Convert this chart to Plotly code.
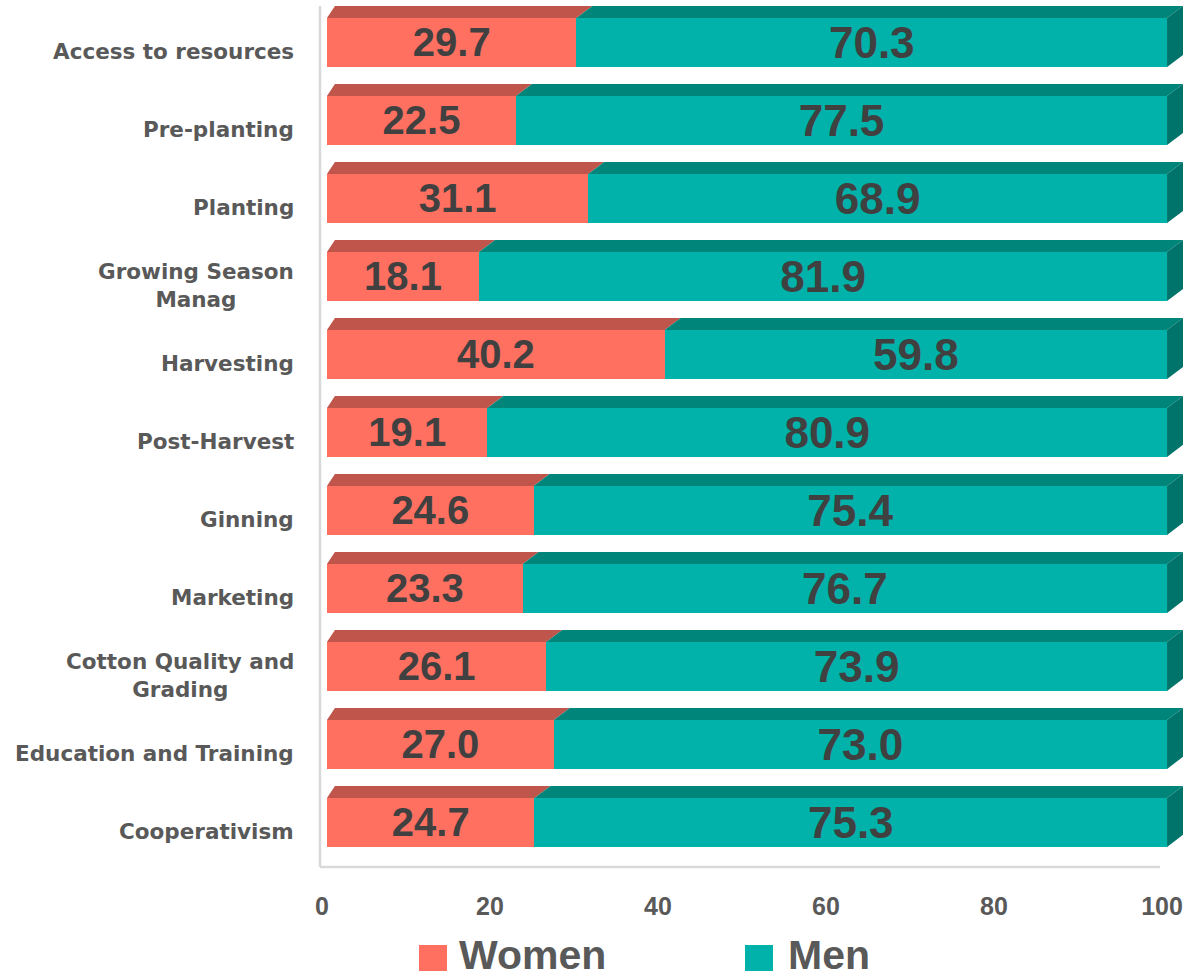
import plotly.graph_objects as go

# ---------------------------------------------------------------------------
# Data
# ---------------------------------------------------------------------------

categories = [
    "Access to resources",
    "Pre-planting",
    "Planting",
    "Growing Season<br>Manag",
    "Harvesting",
    "Post-Harvest",
    "Ginning",
    "Marketing",
    "Cotton Quality and<br>Grading",
    "Education and Training",
    "Cooperativism",
]
women = [29.7, 22.5, 31.1, 18.1, 40.2, 19.1, 24.6, 23.3, 26.1, 27.0, 24.7]
men = [70.3, 77.5, 68.9, 81.9, 59.8, 80.9, 75.4, 76.7, 73.9, 73.0, 75.3]
x_ticks = [0, 20, 40, 60, 80, 100]

# ---------------------------------------------------------------------------
# Style
# ---------------------------------------------------------------------------

W_FRONT, W_TOP = "#FF7061", "#C0554C"
M_FRONT, M_TOP, M_SIDE = "#00B2A9", "#00857A", "#00746A"
GREY = "#595959"
LABEL = "#404040"

W, H = 1194, 977
L, R, T, B = 320, 11, 2, 110
X_RANGE = [-0.83, 101.9]
Y_RANGE = [10.45, -0.64]

BAR_OFF, BAR_W = -0.436, 0.628   # front face position relative to category
DX, DXL, DY = 1.9, 0.95, 0.154   # 3d depth in data units

rows = list(range(len(categories)))


def px_x(px):
    return (px - L) / (W - L - R)


def px_y(py):
    return (H - B - py) / (H - T - B)


# 3d faces built from the values
w_top_x, w_top_y, m_top_x, m_top_y, side_x, side_y = [], [], [], [], [], []
for i, w, m in zip(rows, women, men):
    yt = i + BAR_OFF
    yb = yt + BAR_W
    yu = yt - DY
    tot = w + m
    w_top_x += [0, DXL, w + DX, w, 0, None]
    w_top_y += [yt, yu, yu, yt, yt, None]
    m_top_x += [w, w + DX, tot + DX, tot, w, None]
    m_top_y += [yt, yu, yu, yt, yt, None]
    side_x += [tot, tot + DX, tot + DX, tot, tot, None]
    side_y += [yt, yu, yb - DY, yb, yt, None]

fig = go.Figure()

for name, vals, col, fsize in [("Women", women, W_FRONT, 40),
                               ("Men", men, M_FRONT, 44)]:
    fig.add_trace(go.Bar(
        name=name, x=vals, y=rows, orientation="h",
        width=BAR_W, offset=BAR_OFF,
        marker=dict(color=col, line=dict(width=0)),
        texttemplate="%{x:.1f}", textposition="inside",
        insidetextanchor="middle", constraintext="none",
        textfont=dict(family="Liberation Sans", size=fsize, color=LABEL, weight=700),
        hoverinfo="skip", showlegend=False,
    ))

for xs, ys, col in [(w_top_x, w_top_y, W_TOP), (m_top_x, m_top_y, M_TOP),
                    (side_x, side_y, M_SIDE)]:
    fig.add_trace(go.Scatter(
        x=xs, y=ys, mode="none", fill="toself", fillcolor=col,
        hoverinfo="skip", showlegend=False,
    ))

# category labels
for i, c in zip(rows, categories):
    fig.add_annotation(
        xref="paper", x=0, xanchor="right", xshift=-24,
        yref="y", y=i, yanchor="middle",
        text=c, align="center", showarrow=False,
        font=dict(family="DejaVu Sans", size=21.5, color=GREY, weight=700),
    )

# wall / floor lines
fig.add_shape(type="line", xref="paper", yref="paper",
              x0=0, x1=0, y0=0, y1=px_y(6),
              line=dict(color="#D9D9D9", width=2.5))
fig.add_shape(type="line", xref="paper", yref="paper",
              x0=0, x1=px_x(1160), y0=0, y1=0,
              line=dict(color="#D9D9D9", width=2.5))

# legend
for name, col, sq_left, txt_left in [("Women", W_FRONT, 419, 459),
                                     ("Men", M_FRONT, 745, 788)]:
    fig.add_shape(type="rect", xref="paper", yref="paper",
                  x0=px_x(sq_left), x1=px_x(sq_left + 28),
                  y0=px_y(971), y1=px_y(945),
                  fillcolor=col, line=dict(width=0))
    fig.add_annotation(
        xref="paper", yref="paper", x=px_x(txt_left - 2), y=px_y(955),
        xanchor="left", yanchor="middle", showarrow=False, text=name,
        font=dict(family="Liberation Sans", size=41, color=GREY, weight=700),
    )

fig.update_layout(
    width=W, height=H,
    barmode="stack",
    margin=dict(l=L, r=R, t=T, b=B),
    plot_bgcolor="white", paper_bgcolor="white",
    showlegend=False,
    xaxis=dict(
        range=X_RANGE, tickvals=x_ticks, showgrid=False, zeroline=False,
        showline=False, ticks="", ticklabelstandoff=22, ticklabelshift=-5,
        tickfont=dict(family="Liberation Sans", size=25, color=GREY, weight=700),
    ),
    yaxis=dict(
        range=Y_RANGE, showgrid=False, zeroline=False, showline=False,
        showticklabels=False, ticks="",
    ),
)

fig.write_html(
    "out.html",
    config={"displayModeBar": False},
    post_script="document.body.style.margin='0';document.body.style.overflow='hidden';",
)
